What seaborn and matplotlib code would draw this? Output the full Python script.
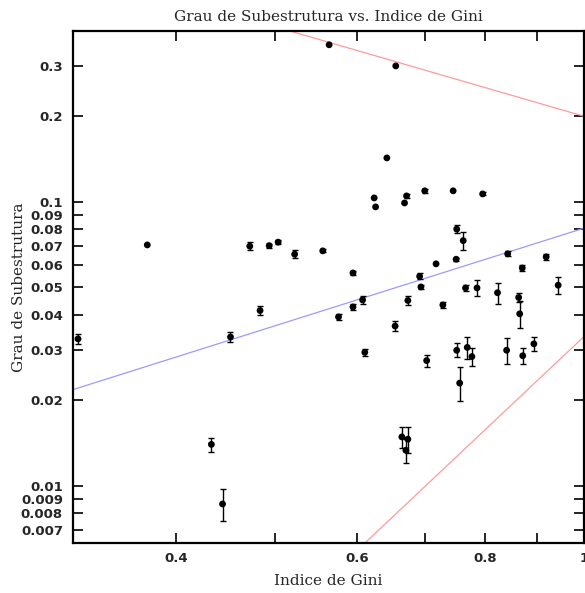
import numpy as np
import pandas as pd
import matplotlib
matplotlib.use("Agg")
import matplotlib.pyplot as plt
from matplotlib.ticker import FixedLocator, FixedFormatter, NullLocator
import seaborn as sns

# Gini index of each system and its substructure degree (with 1-sigma errors; 0 = no error bar)
gini = [0.321, 0.375, 0.433, 0.444, 0.452, 0.472, 0.483, 0.493, 0.503, 0.522,
        0.556, 0.564, 0.595, 0.576, 0.595, 0.608, 0.611, 0.624, 0.626, 0.642,
        0.655, 0.654, 0.668, 0.671, 0.673, 0.691, 0.693, 0.699, 0.702, 0.717,
        0.728, 0.745, 0.750, 0.751, 0.762, 0.751, 0.769, 0.777, 0.756, 0.766,
        0.786, 0.796, 0.823, 0.840, 0.842, 0.863, 0.865, 0.870, 0.871, 0.893,
        0.918, 0.943, 0.664, 0.673, 0.670]
subestrutura = [0.0329, 0.0704, 0.0140, 0.00864, 0.0334, 0.0697, 0.0414, 0.0700, 0.0720, 0.0653,
                0.0671, 0.356, 0.0561, 0.0393, 0.0426, 0.0451, 0.0295, 0.1030, 0.0958, 0.1424,
                0.300, 0.0365, 0.0989, 0.1047, 0.0449, 0.0546, 0.0501, 0.1091, 0.0276, 0.0604,
                0.0433, 0.1091, 0.0627, 0.0800, 0.0729, 0.0300, 0.0307, 0.0285, 0.0230, 0.0497,
                0.0497, 0.1064, 0.0478, 0.0300, 0.0655, 0.0460, 0.0403, 0.0584, 0.0287, 0.0316,
                0.0639, 0.0508, 0.01487, 0.0146, 0.01335]
erro = [0.0013, 0, 0.0008, 0.0011, 0.0013, 0.0023, 0.0015, 0.0011, 0.0011, 0.0021,
        0.0008, 0, 0.0009, 0.0011, 0.0009, 0.0015, 0.0008, 0, 0, 0,
        0, 0.0015, 0, 0.0020, 0.0016, 0.0013, 0.0008, 0.0020, 0.0013, 0,
        0.0009, 0, 0.0008, 0.0027, 0.0053, 0.0017, 0.0027, 0.0020, 0.0031, 0.0012,
        0.0033, 0.0013, 0.0040, 0.0032, 0.0013, 0.0017, 0.0043, 0.0014, 0.0019, 0.0017,
        0.0015, 0.0033, 0.0013, 0.0015, 0.0013]

# Power-law reference lines  y = A * x**k
linha_sup = (0.1994, -1.046)   # upper red
linha_inf = (0.0336, 3.40)     # lower red
ajuste = (0.0807, 1.14)        # blue fit

xticks_major = [0.4, 0.6, 0.8, 1.0]
xticks_minor = [0.5, 0.7, 0.9]
yticks = [0.3, 0.2, 0.1, 0.09, 0.08, 0.07, 0.06, 0.05, 0.04, 0.03, 0.02,
          0.01, 0.009, 0.008, 0.007]
xlim = (0.3172, 1.0)
ylim = (0.00632, 0.398)

sns.set_style("white")
plt.rcParams["font.family"] = ["DejaVu Sans"]

df = pd.DataFrame({"gini": gini, "sub": subestrutura, "err": erro})

fig = plt.figure(figsize=(5.85, 5.93), dpi=100)
ax = fig.add_axes([72.7 / 585, 1 - 542.6 / 593, (584.3 - 72.7) / 585, (542.6 - 31) / 593])
ax.set_xscale("log")
ax.set_yscale("log")

xs = np.geomspace(xlim[0], xlim[1], 400)
for (a, k), cor in [(linha_sup, "#ff9a9a"), (linha_inf, "#ff9a9a"), (ajuste, "#9a9aff")]:
    sns.lineplot(x=xs, y=a * xs ** k, ax=ax, color=cor, lw=0.9, zorder=2)

com_erro = df[df["err"] > 0]
ax.errorbar(com_erro["gini"], com_erro["sub"], yerr=com_erro["err"], fmt="none",
            ecolor="black", elinewidth=1.0, capsize=2.4, capthick=1.0, zorder=3)
sns.scatterplot(data=df, x="gini", y="sub", ax=ax, color="black", s=24,
                edgecolor="none", zorder=4)

ax.set_xlim(*xlim)
ax.set_ylim(*ylim)

ax.xaxis.set_major_locator(FixedLocator(xticks_major))
ax.xaxis.set_major_formatter(FixedFormatter([f"{v:g}" for v in xticks_major]))
ax.xaxis.set_minor_locator(FixedLocator(xticks_minor))
ax.yaxis.set_major_locator(FixedLocator(yticks))
ax.yaxis.set_major_formatter(FixedFormatter([f"{v:g}" for v in yticks]))
ax.yaxis.set_minor_locator(NullLocator())

ax.tick_params(which="both", direction="in", length=7.2, width=1.2, color="black",
               top=True, right=True, bottom=True, left=True)
ax.tick_params(axis="y", which="both", pad=7)
ax.tick_params(axis="x", which="both", pad=6.5)
for lab in ax.get_xticklabels() + ax.get_yticklabels():
    lab.set_fontsize(9.5)
    lab.set_fontweight("bold")
    lab.set_family("DejaVu Sans")

for sp in ax.spines.values():
    sp.set_visible(True)
    sp.set_color("black")
    sp.set_linewidth(1.6)

serif = {"family": "DejaVu Serif", "size": 11}
ax.set_title("Grau de Subestrutura vs. Indice de Gini", fontdict=serif, pad=7)
ax.set_xlabel("Indice de Gini", fontdict=serif, labelpad=7)
ax.set_ylabel("Grau de Subestrutura", fontdict=serif, labelpad=-4)

fig.savefig("out.png", dpi=100)
